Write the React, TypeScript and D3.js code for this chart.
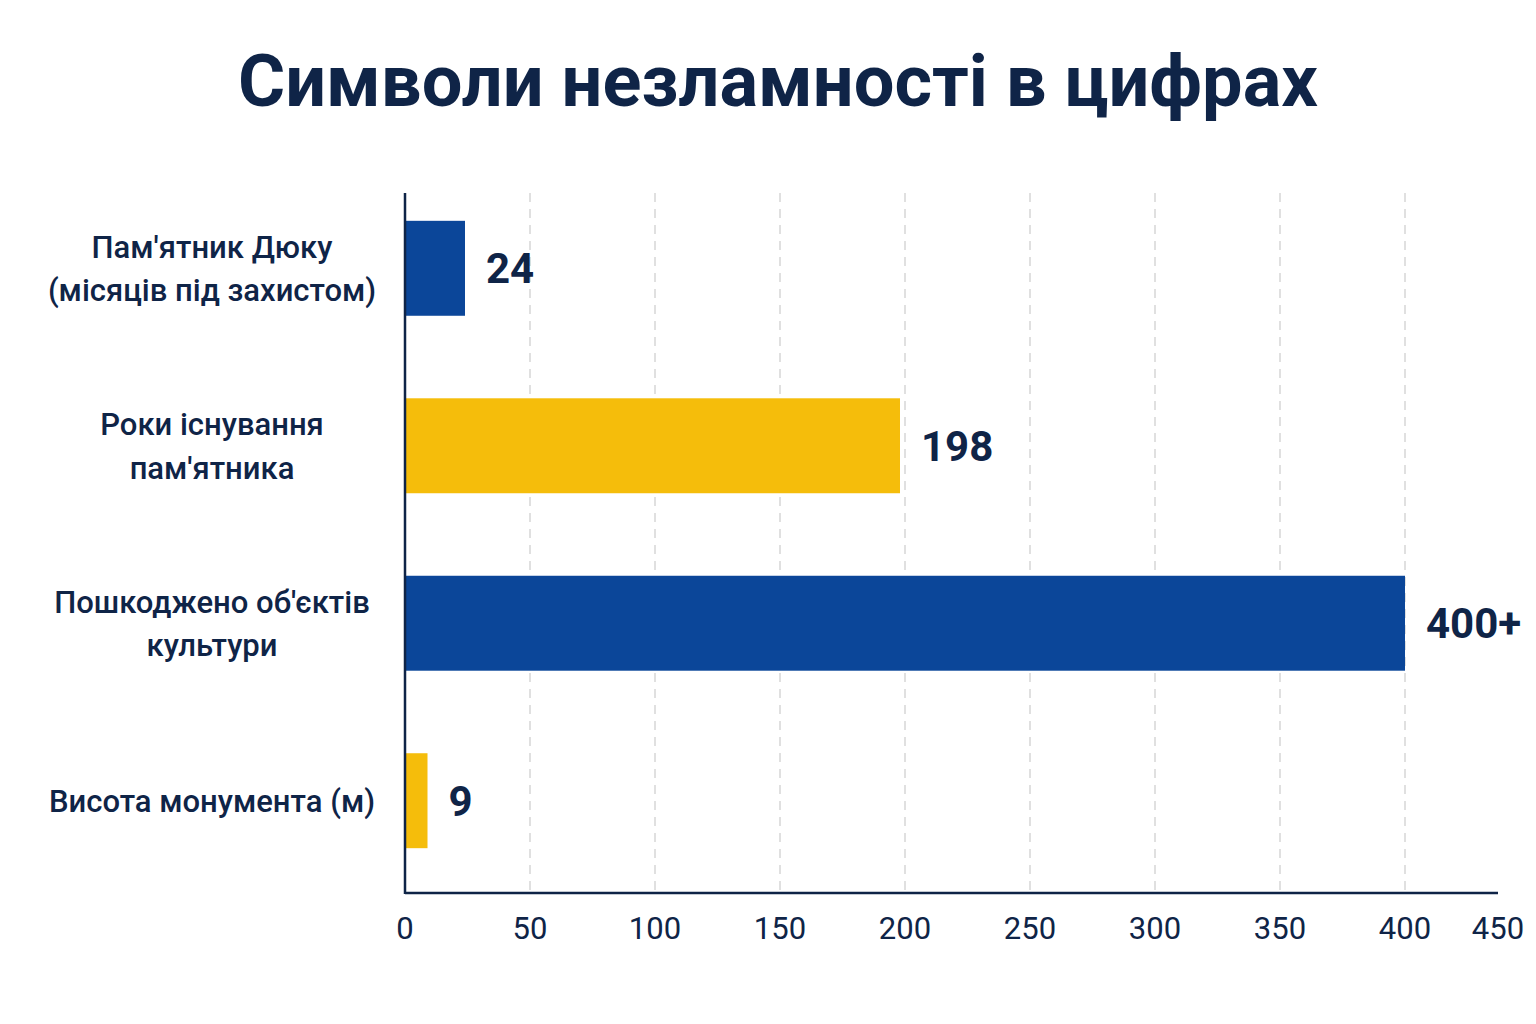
import React from "react";
import * as d3 from "d3";

const categories: string[][] = [
  ["Пам'ятник Дюку", "(місяців під захистом)"],
  ["Роки існування", "пам'ятника"],
  ["Пошкоджено об'єктів", "культури"],
  ["Висота монумента (м)"],
];
const values: number[] = [24, 198, 400, 9];
const valueLabels: string[] = ["24", "198", "400+", "9"];
const barColors: string[] = ["#0b4699", "#f5bd0b", "#0b4699", "#f5bd0b"];
const ticks: number[] = [0, 50, 100, 150, 200, 250, 300, 350, 400, 450];
const title = "Символи незламності в цифрах";

const W = 1536;
const H = 1024;
const left = 405;
const axisEnd = 1498;
const top = 193;
const bottom = 893;
const navy = "#0f2447";

export default function App() {
  const x = d3.scaleLinear().domain([0, 450]).range([left, left + 2.5 * 450]);
  const y = d3
    .scaleBand<number>()
    .domain(d3.range(values.length))
    .range([180, 889])
    .paddingInner(0.465)
    .paddingOuter(0.23);
  const font = "Roboto, 'Noto Sans', sans-serif";
  return (
    <svg
      width={W}
      height={H}
      viewBox={`0 0 ${W} ${H}`}
      style={{ position: "absolute", left: 0, top: 0, background: "#ffffff" }}
      fontFamily={font}
    >
      <rect x={0} y={0} width={W} height={H} fill="#ffffff" />
      <text
        x={778}
        y={106}
        textAnchor="middle"
        fontSize={72}
        fontWeight={700}
        fill={navy}
        textLength={1080}
        lengthAdjust="spacingAndGlyphs"
      >
        {title}
      </text>
      {ticks
        .filter((t) => t > 0 && t < 450)
        .map((t) => (
          <line
            key={"g" + t}
            x1={x(t)}
            x2={x(t)}
            y1={top}
            y2={bottom}
            stroke="#d6d6d6"
            strokeWidth={1.5}
            strokeDasharray="9,7"
          />
        ))}
      {values.map((v, i) => (
        <g key={"b" + i}>
          <rect
            x={x(0)}
            y={y(i)}
            width={x(v) - x(0)}
            height={y.bandwidth()}
            fill={barColors[i]}
          />
          <text
            x={x(v) + 21}
            y={(y(i) as number) + y.bandwidth() / 2}
            dy="0.36em"
            fontSize={42}
            fontWeight={700}
            fill={navy}
          >
            {valueLabels[i]}
          </text>
          <text
            x={212}
            y={(y(i) as number) + y.bandwidth() / 2}
            textAnchor="middle"
            fontSize={31}
            fontWeight={500}
            fill={navy}
          >
            {categories[i].map((line, j) => (
              <tspan
                key={j}
                x={212}
                dy={j === 0 ? `${0.36 - ((categories[i].length - 1) * 1.4) / 2}em` : "1.4em"}
              >
                {line}
              </tspan>
            ))}
          </text>
        </g>
      ))}
      <line x1={left} x2={left} y1={top} y2={bottom + 1} stroke={navy} strokeWidth={2.5} />
      <line x1={left} x2={axisEnd} y1={bottom} y2={bottom} stroke={navy} strokeWidth={2.5} />
      {ticks.map((t) => (
        <text
          key={"t" + t}
          x={Math.min(x(t), axisEnd)}
          y={928}
          dy="0.36em"
          textAnchor="middle"
          fontSize={31}
          fill={navy}
        >
          {t}
        </text>
      ))}
    </svg>
  );
}
